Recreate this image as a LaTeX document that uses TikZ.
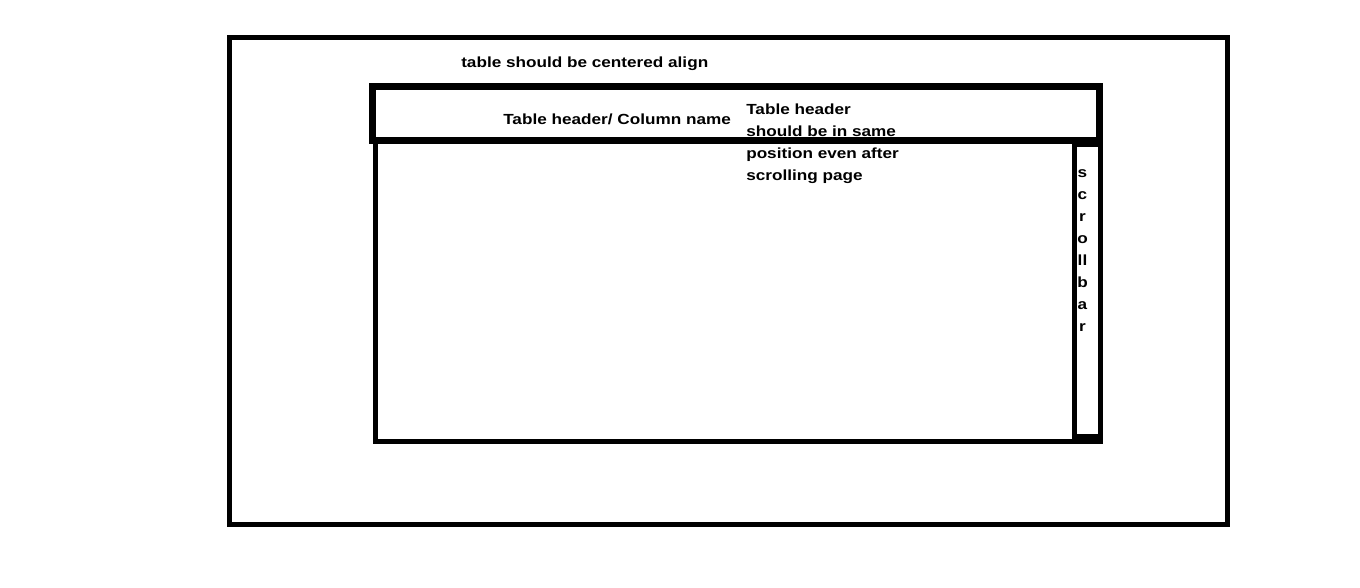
\documentclass[tikz,border=0pt]{standalone}
\usepackage{fontspec}
\setmainfont{Liberation Sans}[FakeStretch=1.17]
\usepackage{tikz}
\usetikzlibrary{shapes,positioning}

\begin{document}
\begin{tikzpicture}[x=0.75pt,y=-0.75pt]
	\tikzstyle{frame}=[rectangle,draw=black,line width=3.75pt,inner sep=0pt]
	\tikzstyle{headbar}=[rectangle,draw=black,line width=5.25pt,inner sep=0pt]
	\tikzstyle{label}=[inner sep=0pt,text=black,font=\fontsize{11}{16.5}\selectfont\bfseries]

	\useasboundingbox (0,0) rectangle (1360,587);

	\node[frame,minimum width=748.5pt,minimum height=365.25pt] (page) at (728.5,281) {};
	\node[frame,minimum width=544.125pt,minimum height=226.125pt] (body) at (737.75,290.75) {};
	\node[frame,minimum width=19.875pt,minimum height=219pt] (scrollbar) at (1087.25,290.5) {};
	\node[headbar,minimum width=544.875pt,minimum height=40.125pt] (header) at (735.75,113.25) {};

	\node[label,anchor=base west] (centered) at (461,67.5) {table should be centered align};
	\node[label,anchor=base west] (colname) at (503,124.5) {Table header/ Column name};
	\node[label,anchor=north west,align=left] (fixed) at (746,104) {Table header\\should be in same\\position even after\\scrolling page};
	\node[label,anchor=north,align=center] (scrolltext) at (1082.5,169) {s\\c\\r\\o\\ll\\b\\a\\r};
\end{tikzpicture}
\end{document}
